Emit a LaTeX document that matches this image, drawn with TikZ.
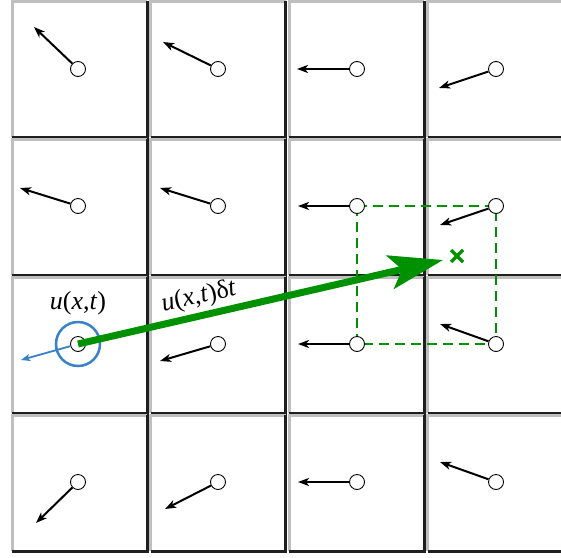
\documentclass[tikz,border=0pt]{standalone}
\usepackage{fontspec}
\setmainfont{Liberation Serif}
\usetikzlibrary{arrows.meta}
\definecolor{gr}{RGB}{0,145,0}
\definecolor{bl}{RGB}{58,130,200}
\tikzset{
  pt/.style={circle,draw=black,fill=white,line width=0.9pt,inner sep=0pt,minimum size=15pt},
  vec/.style={line width=2pt,-{Stealth[length=11pt,width=8pt,inset=3pt]}},
  cellfill/.style={fill=white},
  cellgray/.style={draw=black!25,line width=3pt},
  cellblack/.style={draw=black!88,line width=3pt},
  lab/.style={font=\fontsize{26}{29}\selectfont,inner sep=0pt}
}
\begin{document}
\begin{tikzpicture}[x=1pt,y=-1pt]
\useasboundingbox (0,0) rectangle (561,557);
% cells
\foreach \c in {0,1,2,3}{
  \foreach \r in {0,1,2,3}{
    \pgfmathsetmacro{\L}{12+138.5*\c}
    \pgfmathsetmacro{\T}{1+138*\r}
    \pgfmathsetmacro{\R}{\L+135}
    \pgfmathsetmacro{\B}{\T+136}
    \fill[cellfill] (\L,\T) rectangle (\R,\B);
    \draw[cellgray] (\L,\B) -- (\L,\T) -- (\R,\T);
    \draw[cellblack] (\R,\T) -- (\R,\B) -- (\L,\B);
  }
}
% dashed square
\draw[gr,line width=2pt,dash pattern=on 10pt off 6pt] (357,206) rectangle (496,344);
% points
\node[pt] (p11) at (78,69) {};
\node[pt] (p12) at (218,69) {};
\node[pt] (p13) at (357,69) {};
\node[pt] (p14) at (496,69) {};
\node[pt] (p21) at (78,206) {};
\node[pt] (p22) at (218,206) {};
\node[pt] (p23) at (357,206) {};
\node[pt] (p24) at (496,206) {};
\node[pt] (p31) at (78,344) {};
\node[pt] (p32) at (218,344) {};
\node[pt] (p33) at (357,344) {};
\node[pt] (p34) at (496,344) {};
\node[pt] (p41) at (78,482) {};
\node[pt] (p42) at (218,482) {};
\node[pt] (p43) at (357,482) {};
\node[pt] (p44) at (496,482) {};
% tips
\coordinate (t11) at (34,27);
\coordinate (t12) at (163,42);
\coordinate (t13) at (297,69);
\coordinate (t14) at (439,88);
\coordinate (t21) at (20,188);
\coordinate (t22) at (160,188);
\coordinate (t23) at (298,206);
\coordinate (t24) at (440,225);
\coordinate (t31) at (21,360);
\coordinate (t32) at (160,361);
\coordinate (t33) at (298,344);
\coordinate (t34) at (440,324);
\coordinate (t41) at (36,523);
\coordinate (t42) at (165,509);
\coordinate (t43) at (298,482);
\coordinate (t44) at (440,462);
\foreach \i in {11,12,13,14,21,22,23,24,32,33,34,41,42,43,44}{
  \draw[vec] (p\i) -- (t\i);
}
% blue
\draw[bl,line width=1.8pt,-{Stealth[length=9pt,width=7pt,inset=2pt]}] (p31) -- (t31);
\node[circle,draw=bl,line width=2.5pt,minimum size=44pt,inner sep=0pt] (bc) at (p31) {};
% green arrow
\coordinate (gt) at (443,260);
\draw[gr,line width=7pt,-{Stealth[length=54pt,width=34pt,inset=12pt]}] (p31.center) -- (gt);
% cross
\coordinate (x0) at (457,256);
\draw[gr,line width=3.5pt] ([shift={(-6,-6)}]x0) -- ([shift={(6,6)}]x0)
  ([shift={(-6,6)}]x0) -- ([shift={(6,-6)}]x0);
% labels
\node[lab] (l1) at (78,303) {\textit{u}(\textit{x},\textit{t})};
\node[lab,rotate=13] (l2) at (199,297) {\textit{u}(\textit{x},\textit{t})δ\textit{t}};
\end{tikzpicture}
\end{document}
